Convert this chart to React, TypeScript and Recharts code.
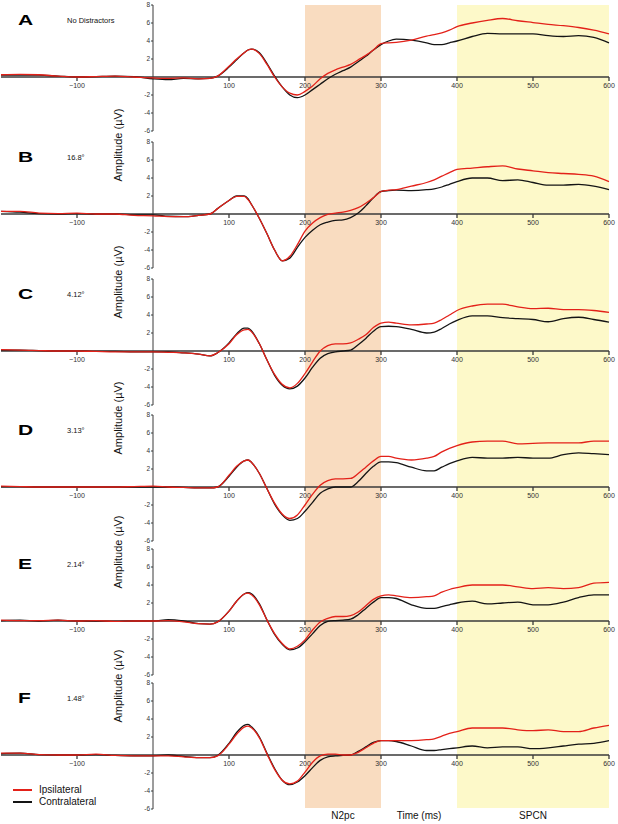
import React from "react"
import { LineChart, Line, XAxis, YAxis, ReferenceArea } from "recharts"

// time points (ms) shared by every panel
const TIMES = [-200, -175, -150, -125, -100, -75, -50, -25, 0, 20, 40, 60, 75, 85, 100, 110, 120, 125, 130, 140, 150, 160, 170, 180, 190, 200, 210, 220, 230, 240, 250, 260, 270, 280, 290, 300, 310, 320, 340, 360, 370, 380, 390, 400, 420, 440, 460, 480, 500, 520, 540, 560, 580, 600]

// amplitudes (µV), ipsilateral / contralateral per panel
const IPSI_A = [0.25, 0.3, 0.25, 0.1, 0.0, 0.05, 0.1, 0.0, -0.1, -0.15, -0.1, -0.2, -0.15, 0.1, 1.2, 2.0, 2.7, 3.0, 3.1, 2.6, 1.4, 0.0, -1.1, -1.8, -2.0, -1.6, -1.0, -0.2, 0.4, 0.8, 1.1, 1.4, 1.9, 2.4, 3.0, 3.7, 3.8, 3.85, 4.1, 4.55, 4.7, 4.9, 5.2, 5.6, 6.0, 6.3, 6.5, 6.25, 6.05, 5.85, 5.7, 5.5, 5.2, 4.8]
const CONTRA_A = [0.2, 0.2, 0.2, 0.1, 0.0, 0.05, 0.1, 0.05, -0.2, -0.3, -0.15, -0.2, -0.15, 0.1, 1.1, 1.9, 2.7, 3.0, 3.1, 2.7, 1.5, 0.1, -1.1, -2.0, -2.3, -2.0, -1.4, -0.8, -0.2, 0.3, 0.7, 1.1, 1.7, 2.3, 3.0, 3.6, 4.0, 4.2, 4.1, 3.8, 3.6, 3.6, 3.8, 4.0, 4.5, 4.85, 4.8, 4.8, 4.8, 4.6, 4.5, 4.6, 4.4, 3.8]

const IPSI_B = [0.3, 0.3, 0.1, 0.05, 0.1, 0.0, 0.0, -0.15, -0.2, -0.3, -0.3, -0.15, 0.0, 0.6, 1.5, 1.95, 1.95, 1.6, 1.0, -0.5, -2.2, -4.0, -5.2, -4.7, -3.4, -1.9, -1.0, -0.4, -0.05, 0.1, 0.2, 0.4, 0.7, 1.2, 1.8, 2.5, 2.65, 2.7, 3.1, 3.5, 3.8, 4.2, 4.6, 4.95, 5.1, 5.25, 5.35, 5.0, 4.8, 4.6, 4.5, 4.4, 4.2, 3.6]
const CONTRA_B = [0.3, 0.2, 0.05, 0.0, 0.05, 0.0, 0.0, -0.1, -0.1, -0.25, -0.3, -0.15, 0.0, 0.6, 1.5, 2.0, 2.0, 1.7, 1.0, -0.5, -2.2, -4.0, -5.2, -4.9, -3.7, -2.6, -1.8, -1.2, -0.9, -0.7, -0.65, -0.4, 0.1, 0.9, 1.8, 2.5, 2.6, 2.65, 2.6, 2.7, 2.8, 3.0, 3.3, 3.6, 4.0, 4.0, 3.7, 3.8, 3.5, 3.2, 3.2, 3.3, 3.1, 2.7]

const IPSI_C = [0.15, 0.1, 0.05, 0.0, 0.0, -0.05, -0.1, -0.1, -0.1, -0.15, -0.2, -0.35, -0.55, -0.2, 0.8, 1.8, 2.35, 2.4, 2.1, 0.8, -1.0, -2.6, -3.7, -4.1, -3.6, -2.5, -1.2, 0.0, 0.6, 0.8, 0.8, 0.9, 1.3, 1.8, 2.6, 3.1, 3.2, 3.1, 2.9, 3.0, 3.1, 3.5, 4.0, 4.5, 5.0, 5.2, 5.2, 4.9, 4.7, 4.75, 4.6, 4.6, 4.5, 4.3]
const CONTRA_C = [0.1, 0.1, 0.05, 0.0, 0.0, -0.05, -0.05, -0.1, -0.1, -0.1, -0.2, -0.35, -0.55, -0.2, 0.9, 1.9, 2.55, 2.55, 2.2, 0.8, -1.0, -2.7, -3.8, -4.2, -3.9, -3.0, -1.8, -0.8, -0.3, -0.1, 0.0, 0.1, 0.7, 1.4, 2.2, 2.7, 2.75, 2.7, 2.4, 2.0, 2.1, 2.5, 3.0, 3.4, 3.9, 3.9, 3.7, 3.6, 3.5, 3.25, 3.6, 3.75, 3.5, 3.2]

const IPSI_D = [0.1, 0.05, 0.0, 0.0, 0.0, 0.0, 0.0, 0.05, 0.1, 0.0, -0.05, -0.1, -0.1, 0.0, 1.3, 2.3, 2.9, 3.0, 2.7, 1.5, -0.2, -1.8, -3.0, -3.5, -3.1, -2.0, -0.8, 0.2, 0.7, 0.9, 0.9, 0.95, 1.5, 2.2, 2.9, 3.4, 3.4, 3.2, 3.0, 3.2, 3.4, 3.9, 4.3, 4.6, 5.0, 5.1, 5.1, 4.8, 4.85, 4.9, 4.9, 4.9, 5.1, 5.1]
const CONTRA_D = [0.05, 0.05, 0.0, 0.0, 0.0, 0.0, 0.0, 0.0, 0.0, 0.0, -0.05, -0.1, -0.1, 0.0, 1.2, 2.2, 2.9, 3.0, 2.7, 1.5, -0.2, -1.9, -3.1, -3.7, -3.5, -2.7, -1.7, -0.7, -0.2, 0.0, 0.0, 0.0, 0.6, 1.5, 2.3, 2.8, 2.8, 2.7, 2.2, 1.8, 1.8, 2.2, 2.6, 2.9, 3.3, 3.2, 3.2, 3.3, 3.2, 3.2, 3.6, 3.8, 3.7, 3.6]

const IPSI_E = [0.1, 0.05, 0.05, 0.1, 0.0, 0.05, -0.05, 0.0, 0.0, 0.05, -0.1, -0.3, -0.35, -0.1, 1.1, 2.2, 3.0, 3.1, 2.9, 1.8, 0.1, -1.4, -2.5, -3.1, -2.8, -2.1, -1.0, -0.1, 0.3, 0.5, 0.5, 0.6, 1.0, 1.7, 2.4, 2.8, 2.9, 2.8, 2.6, 2.7, 2.8, 3.2, 3.5, 3.7, 4.0, 4.0, 4.0, 3.8, 3.6, 3.7, 3.6, 3.7, 4.2, 4.3]
const CONTRA_E = [0.05, 0.1, 0.0, 0.1, 0.0, 0.0, -0.05, 0.0, 0.0, 0.15, 0.0, -0.3, -0.35, -0.1, 1.1, 2.2, 3.0, 3.15, 3.0, 1.9, 0.1, -1.5, -2.6, -3.2, -3.0, -2.3, -1.4, -0.5, -0.05, 0.05, 0.1, 0.2, 0.7, 1.4, 2.1, 2.6, 2.6, 2.5, 1.8, 1.4, 1.4, 1.6, 1.8, 2.0, 2.2, 1.9, 2.0, 2.1, 1.8, 1.8, 2.1, 2.6, 2.9, 2.9]

const IPSI_F = [0.2, 0.2, 0.05, 0.0, 0.0, 0.1, -0.05, -0.1, -0.1, -0.1, -0.2, -0.3, -0.3, -0.1, 1.2, 2.3, 3.1, 3.2, 3.0, 1.9, 0.1, -1.6, -2.8, -3.2, -2.9, -1.9, -0.8, -0.1, 0.1, 0.1, 0.0, 0.0, 0.3, 0.8, 1.3, 1.6, 1.6, 1.6, 1.6, 1.7, 1.8, 2.1, 2.4, 2.6, 3.0, 3.0, 3.0, 2.8, 2.7, 2.8, 2.6, 2.6, 3.0, 3.3]
const CONTRA_F = [0.15, 0.2, 0.05, 0.0, 0.0, 0.05, -0.05, -0.1, -0.1, 0.0, -0.15, -0.3, -0.3, -0.05, 1.3, 2.5, 3.3, 3.4, 3.1, 2.0, 0.2, -1.5, -2.8, -3.3, -3.0, -2.3, -1.4, -0.6, -0.2, -0.1, -0.05, 0.0, 0.4, 0.9, 1.4, 1.6, 1.6, 1.5, 1.0, 0.5, 0.5, 0.6, 0.7, 0.8, 1.0, 0.8, 0.9, 0.9, 0.7, 0.8, 1.0, 1.2, 1.3, 1.6]

const IPSI = [IPSI_A, IPSI_B, IPSI_C, IPSI_D, IPSI_E, IPSI_F]
const CONTRA = [CONTRA_A, CONTRA_B, CONTRA_C, CONTRA_D, CONTRA_E, CONTRA_F]

const PANEL_LETTERS = ["A", "B", "C", "D", "E", "F"]
const PANEL_CONDITIONS = ["No Distractors", "16.8°", "4.12°", "3.13°", "2.14°", "1.48°"]

const X_TICKS = [-100, 100, 200, 300, 400, 500, 600]
const Y_TICKS = [-6, -4, -2, 2, 4, 6, 8]

// analysis windows (ms)
const N2PC_WINDOW = [200, 300]
const SPCN_WINDOW = [400, 600]

// y pixel of the "8" tick for each panel
const PANEL_TOPS = [5, 142, 279, 415, 549, 683]

const FONT = "'Liberation Sans', Arial, Helvetica, sans-serif"
const RED = "#e32119"
const BLACK = "#141414"
const AXIS = "#3a3a3a"

function Panel({ index }: { index: number }) {
  const data = TIMES.map((t, i) => ({ t, ipsi: IPSI[index][i], contra: CONTRA[index][i] }))
  const top = PANEL_TOPS[index]

  return (
    <>
      {/* x axis sits at 0 µV, so it gets its own chart whose plot ends there */}
      <div style={{ position: "absolute", left: 0, top: top - 5 }}>
        <LineChart width={618} height={100} data={data} margin={{ top: 5, right: 9, bottom: 0, left: 1 }}>
          <XAxis
            dataKey="t"
            type="number"
            domain={[-200, 600]}
            ticks={X_TICKS}
            interval={0}
            height={23}
            tickSize={4}
            tickMargin={2}
            stroke={AXIS}
            strokeWidth={1.3}
            tick={{ fontSize: 7, fill: "#333", fontFamily: FONT }}
            tickFormatter={(v: number) => (v < 0 ? "\u2212" + Math.abs(v) : String(v))}
          />
          <YAxis domain={[0, 8]} allowDataOverflow hide />
          <Line dataKey="ipsi" stroke="none" dot={false} isAnimationActive={false} />
        </LineChart>
      </div>

      {/* y axis at t = 0 */}
      <div style={{ position: "absolute", left: 0, top: top - 5 }}>
        <LineChart width={618} height={140} data={data} margin={{ top: 5, right: 9, bottom: 9, left: 133 }}>
          <XAxis dataKey="t" type="number" domain={[0, 600]} allowDataOverflow hide />
          <YAxis
            domain={[-6, 8]}
            ticks={Y_TICKS}
            interval={0}
            width={20}
            tickSize={2}
            tickMargin={1}
            stroke={AXIS}
            tick={{ fontSize: 6.5, fill: "#333", fontFamily: FONT }}
          />
          <Line dataKey="ipsi" stroke="none" dot={false} isAnimationActive={false} />
        </LineChart>
      </div>

      {/* waveforms */}
      <div style={{ position: "absolute", left: 0, top: top - 5 }}>
        <LineChart width={618} height={140} data={data} margin={{ top: 5, right: 9, bottom: 9, left: 1 }}>
          <XAxis dataKey="t" type="number" domain={[-200, 600]} hide />
          <YAxis domain={[-6, 8]} hide />
          <Line dataKey="contra" type="monotone" stroke={BLACK} strokeWidth={1.3} dot={false} isAnimationActive={false} />
          <Line dataKey="ipsi" type="monotone" stroke={RED} strokeWidth={1.3} dot={false} isAnimationActive={false} />
        </LineChart>
      </div>

      <div
        style={{
          position: "absolute", left: 18, top: top + 8, fontFamily: FONT, fontWeight: "bold",
          fontSize: 14, lineHeight: "14px", transform: "scaleX(1.5)", transformOrigin: "left top",
        }}
      >
        {PANEL_LETTERS[index]}
      </div>
      <div style={{ position: "absolute", left: 67, top: top + 11, fontFamily: FONT, fontSize: 7.5, lineHeight: "9px", color: "#111" }}>
        {PANEL_CONDITIONS[index]}
      </div>

      {index > 0 && (
        <div style={{ position: "absolute", left: 118, top: top + 3, width: 0, height: 0 }}>
          <div
            style={{
              position: "absolute", left: 0, top: 0, transform: "translate(-50%, -50%) rotate(-90deg)",
              fontFamily: FONT, fontSize: 11, whiteSpace: "nowrap", color: "#111",
            }}
          >
            Amplitude (µV)
          </div>
        </div>
      )}
    </>
  )
}

export default function App() {
  const bandData = [{ t: -200, v: 0 }, { t: 600, v: 1 }]

  return (
    <div style={{ position: "absolute", left: 0, top: 0, width: 618, height: 824, background: "#fff", overflow: "hidden" }}>
      {/* analysis windows shaded through all panels */}
      <div style={{ position: "absolute", left: 0, top: 0 }}>
        <LineChart width={618} height={824} data={bandData} margin={{ top: 5, right: 9, bottom: 16, left: 1 }}>
          <XAxis dataKey="t" type="number" domain={[-200, 600]} hide />
          <YAxis domain={[0, 1]} hide />
          <ReferenceArea x1={N2PC_WINDOW[0]} x2={N2PC_WINDOW[1]} fill="#f9dcc0" fillOpacity={1} stroke="none" />
          <ReferenceArea x1={SPCN_WINDOW[0]} x2={SPCN_WINDOW[1]} fill="#fdf9c9" fillOpacity={1} stroke="none" />
          <Line dataKey="v" stroke="none" dot={false} isAnimationActive={false} />
        </LineChart>
      </div>

      {PANEL_LETTERS.map((_, i) => (
        <Panel key={i} index={i} />
      ))}

      <div style={{ position: "absolute", left: 305, width: 76, top: 810, textAlign: "center", fontFamily: FONT, fontSize: 10, color: "#111" }}>
        N2pc
      </div>
      <div style={{ position: "absolute", left: 381, width: 76, top: 810, textAlign: "center", fontFamily: FONT, fontSize: 10, color: "#111", whiteSpace: "nowrap" }}>
        Time (ms)
      </div>
      <div style={{ position: "absolute", left: 457, width: 152, top: 810, textAlign: "center", fontFamily: FONT, fontSize: 10, color: "#111" }}>
        SPCN
      </div>

      {/* legend */}
      <div style={{ position: "absolute", left: 13, top: 784, fontFamily: FONT, fontSize: 10, color: "#111", lineHeight: "12px" }}>
        <div style={{ display: "flex", alignItems: "center" }}>
          <span style={{ display: "inline-block", width: 19, height: 2, background: RED, marginRight: 7 }} />
          Ipsilateral
        </div>
        <div style={{ display: "flex", alignItems: "center" }}>
          <span style={{ display: "inline-block", width: 19, height: 2, background: BLACK, marginRight: 7 }} />
          Contralateral
        </div>
      </div>
    </div>
  )
}
